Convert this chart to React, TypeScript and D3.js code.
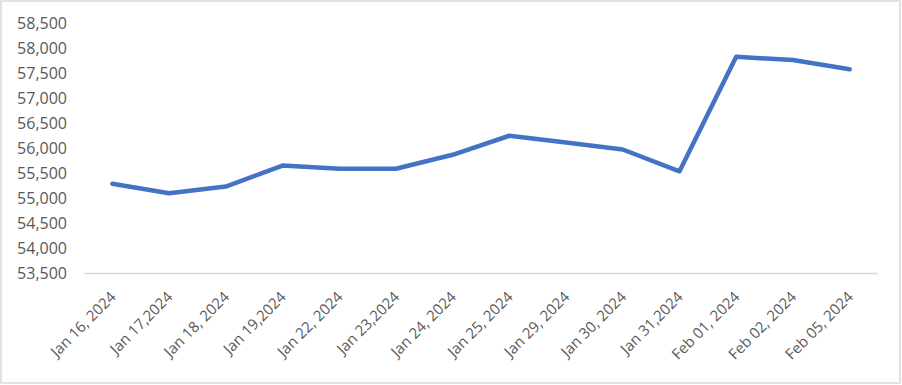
import React from "react";
import * as d3 from "d3";

const categories: string[] = [
  "Jan 16, 2024", "Jan 17,2024", "Jan 18, 2024", "Jan 19,2024", "Jan 22, 2024",
  "Jan 23,2024", "Jan 24, 2024", "Jan 25, 2024", "Jan 29, 2024", "Jan 30, 2024",
  "Jan 31,2024", "Feb 01, 2024", "Feb 02, 2024", "Feb 05, 2024",
];
const values: number[] = [
  55290, 55100, 55235, 55655, 55590, 55590, 55870, 56250, 56115, 55975,
  55540, 57825, 57760, 57575,
];
const yTicks: number[] = [53500, 54000, 54500, 55000, 55500, 56000, 56500, 57000, 57500, 58000, 58500];

const W = 902;
const H = 385;
const margin = { left: 84, right: 24, top: 23, bottom: 112 };

export default function App() {
  const x = d3
    .scaleBand<string>()
    .domain(categories)
    .range([margin.left, W - margin.right]);
  const y = d3
    .scaleLinear()
    .domain([53500, 58500])
    .range([H - margin.bottom + 0.5, margin.top]);
  const line = d3
    .line<number>()
    .x((_, i) => (x(categories[i]) as number) + x.bandwidth() / 2)
    .y((d) => y(d));
  const fmt = d3.format(",");
  const font = "'Open Sans', sans-serif";
  const axisY = y(53500);
  return (
    <div style={{ position: "absolute", left: 0, top: 0 }}>
      <svg width={W} height={H} style={{ display: "block" }}>
        <rect x={0} y={0} width={W} height={H} fill="#ffffff" />
        <rect x={1} y={1} width={W - 3} height={H - 3} fill="none" stroke="#d9d9d9" strokeWidth={1.5} />
        {yTicks.map((t) => (
          <text
            key={t}
            x={67}
            y={y(t)}
            dy="0.35em"
            textAnchor="end"
            fontFamily={font}
            fontSize={16}
            fill="#595959"
          >
            {fmt(t)}
          </text>
        ))}
        <line
          x1={margin.left}
          x2={W - margin.right}
          y1={axisY}
          y2={axisY}
          stroke="#d9d9d9"
          strokeWidth={1.5}
        />
        {categories.map((c) => {
          const cx = (x(c) as number) + x.bandwidth() / 2;
          const ty = axisY + 17;
          return (
            <text
              key={c}
              transform={`translate(${cx - 3},${ty}) rotate(-45)`}
              textAnchor="end"
              dy="0.7em"
              fontFamily={font}
              fontSize={15}
              fill="#595959"
            >
              {c}
            </text>
          );
        })}
        <path
          d={line(values) || ""}
          fill="none"
          stroke="#4472c4"
          strokeWidth={4.5}
          strokeLinejoin="round"
          strokeLinecap="round"
        />
      </svg>
    </div>
  );
}
